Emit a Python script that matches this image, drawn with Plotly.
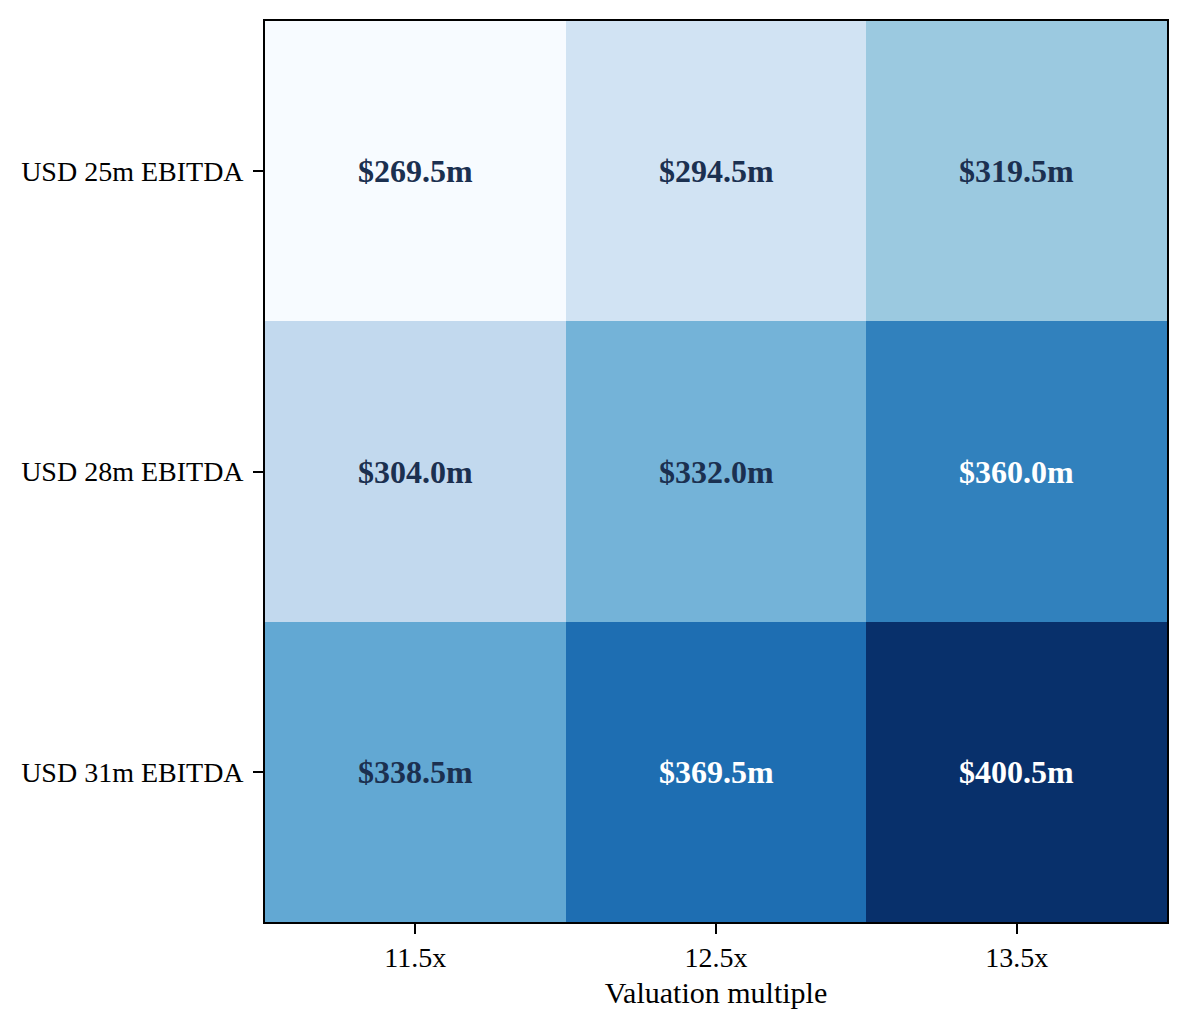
import plotly.graph_objects as go
import plotly.express as px

# sensitivity grid: rows = EBITDA case, cols = valuation multiple
ebitda_cases = ["USD 25m EBITDA", "USD 28m EBITDA", "USD 31m EBITDA"]
multiples = ["11.5x", "12.5x", "13.5x"]
valuations = [
    [269.5, 294.5, 319.5],
    [304.0, 332.0, 360.0],
    [338.5, 369.5, 400.5],
]

FONT = "Liberation Serif, Times New Roman, serif"
DARK_TEXT = "rgb(27,48,80)"

zmin = min(min(r) for r in valuations)
zmax = max(max(r) for r in valuations)

fig = go.Figure(go.Heatmap(
    z=valuations, x=multiples, y=ebitda_cases,
    colorscale=px.colors.sequential.Blues,
    zmin=zmin, zmax=zmax,
    showscale=False, hoverinfo="skip",
))

annotations = []
for i, row in enumerate(valuations):
    for j, v in enumerate(row):
        frac = (v - zmin) / (zmax - zmin)
        annotations.append(dict(
            x=multiples[j], y=ebitda_cases[i],
            text=f"<b>${v:.1f}m</b>", showarrow=False,
            font=dict(family=FONT, size=32, color="white" if frac > 0.6 else DARK_TEXT),
        ))

axis_style = dict(
    showline=True, linecolor="black", linewidth=1.6, mirror=True,
    ticks="outside", ticklen=10, tickwidth=1.6, tickcolor="black",
    tickfont=dict(family=FONT, size=28, color="black"),
    showgrid=False, zeroline=False,
)

# page has an 8px body margin, so the figure is slightly smaller than the window
fig.update_layout(
    width=1173, height=1017,
    margin=dict(l=257, r=14, t=11, b=103),
    plot_bgcolor="white", paper_bgcolor="white",
    annotations=annotations,
    xaxis=dict(**axis_style, title=dict(text="Valuation multiple",
               font=dict(family=FONT, size=30, color="black"), standoff=10),
               ticklabelstandoff=0),
    yaxis=dict(**axis_style, autorange="reversed", ticklabelstandoff=4),
)

fig.write_html("out.html")
